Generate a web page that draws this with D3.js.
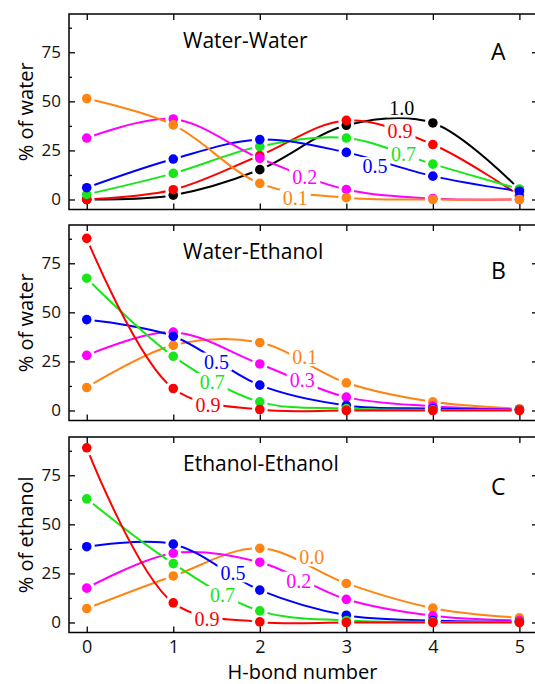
<!DOCTYPE html>
<html>
<head>
<meta charset="utf-8">
<script src="https://cdn.jsdelivr.net/npm/d3@7"></script>
<style>
  body { margin: 0; background: #fff; }
  text { font-family: "Open Sans", sans-serif; }
  text.frac { font-family: "Liberation Serif", "Times New Roman", serif; }
</style>
</head>
<body>
<svg id="fig" width="535" height="684"></svg>
<script>
// H-bond number axis
const hbondNumber = [0, 1, 2, 3, 4, 5];
const yTicks = [0, 25, 50, 75];
const yMinor = [12.5, 37.5, 62.5, 87.5];

// Water-Water distribution (% of water), one series per ethanol fraction label
const wwNames = ["1.0", "0.9", "0.7", "0.5", "0.2", "0.1"];
const ww_10 = [0, 2.2, 15.2, 37.8, 39, 5];
const ww_09 = [0, 5, 22.4, 40.3, 28, 2];
const ww_07 = [2.6, 13.3, 27, 31.3, 18, 5.3];
const ww_05 = [6, 20.6, 30.5, 24, 11.9, 4.2];
const ww_02 = [31.3, 41, 21, 5.1, 0.5, 0];
const ww_01 = [51.4, 38, 8.2, 0.9, 0, 0];
const wwLabelAt = [[3.64, 46.4], [3.62, 35], [3.66, 23.3], [3.33, 17], [2.52, 11.7], [2.41, 0.9]];

// Water-Ethanol distribution (% of water)
const weNames = ["0.1", "0.3", "0.5", "0.7", "0.9"];
const we_01 = [11.7, 33.2, 34.6, 14.1, 4.4, 0.9];
const we_03 = [28.1, 39.9, 23.7, 6.8, 2.2, 0.5];
const we_05 = [46.3, 37.8, 12.9, 2.6, 1, 0.3];
const we_07 = [67.4, 27.6, 4.4, 1, 0.3, 0.2];
const we_09 = [87.7, 11.2, 0.5, 0, 0, 0];
const weLabelAt = [[2.52, 27.2], [2.49, 15.5], [1.5, 24.9], [1.45, 14.5], [1.4, 2.6]];

// Ethanol-Ethanol distribution (% of ethanol)
const eeNames = ["0.0", "0.2", "0.5", "0.7", "0.9"];
const ee_00 = [7.1, 23.7, 37.8, 19.9, 7.3, 2.4];
const ee_02 = [17.5, 35.3, 30.7, 11.8, 3.4, 1];
const ee_05 = [38.6, 39.9, 16.5, 3.7, 1, 0.3];
const ee_07 = [63, 30, 5.9, 1, 0.3, 0.2];
const ee_09 = [89, 10, 0.3, 0, 0, 0];
const eeLabelAt = [[2.6, 33.2], [2.45, 21.3], [1.69, 25], [1.57, 14], [1.39, 1.7]];

const BLACK = "#000000", RED = "#ff0000", GREEN = "#19e619", BLUE = "#0000ff",
      MAGENTA = "#ff00ff", ORANGE = "#ff8412";

const panels = [
  { top: 14, title: "Water-Water", letter: "A", letterY: 60, ylab: "% of water",
    names: wwNames, series: [ww_10, ww_09, ww_07, ww_05, ww_02, ww_01], labelAt: wwLabelAt,
    colors: [BLACK, RED, GREEN, BLUE, MAGENTA, ORANGE] },
  { top: 225, title: "Water-Ethanol", letter: "B", letterY: 279, ylab: "% of water",
    names: weNames, series: [we_01, we_03, we_05, we_07, we_09], labelAt: weLabelAt,
    colors: [ORANGE, MAGENTA, BLUE, GREEN, RED] },
  { top: 437, title: "Ethanol-Ethanol", letter: "C", letterY: 495, ylab: "% of ethanol",
    names: eeNames, series: [ee_00, ee_02, ee_05, ee_07, ee_09], labelAt: eeLabelAt,
    colors: [ORANGE, MAGENTA, BLUE, GREEN, RED] }
];

const svg = d3.select("#fig");
const defs = svg.append("defs");
const left = 69, right = 538, panelH = 195.5;
const x = d3.scaleLinear().domain([-0.205, 5.215]).range([left, right]);

panels.forEach((p, pi) => {
  const top = p.top, bottom = top + panelH;
  const y = d3.scaleLinear().domain([-5.1, 94.5]).range([bottom, top]);
  const g = svg.append("g");

  defs.append("clipPath").attr("id", "clip" + pi)
    .append("rect").attr("x", left).attr("y", top).attr("width", right - left).attr("height", panelH);

  // axes, ticks pointing inward
  const styleAxis = sel => {
    sel.select(".domain").remove();
    sel.selectAll(".tick line").attr("stroke-width", 1.3);
    sel.selectAll(".tick text").style("font-size", "17px").style("font-family", "Open Sans").attr("fill", "#111");
  };
  g.append("g").attr("transform", `translate(${left},0)`)
    .call(d3.axisLeft(y).tickValues(yTicks).tickSize(-6).tickPadding(8))
    .call(styleAxis);
  g.append("g").attr("transform", `translate(${left},0)`)
    .call(d3.axisLeft(y).tickValues(yMinor).tickSize(-3).tickFormat(""))
    .call(styleAxis);
  g.append("g").attr("transform", `translate(${right},0)`)
    .call(d3.axisRight(y).tickValues(yTicks).tickSize(-6).tickFormat(""))
    .call(styleAxis);
  g.append("g").attr("transform", `translate(${right},0)`)
    .call(d3.axisRight(y).tickValues(yMinor).tickSize(-3).tickFormat(""))
    .call(styleAxis);
  g.append("g").attr("transform", `translate(0,${top})`)
    .call(d3.axisTop(x).tickValues(hbondNumber).tickSize(-6).tickFormat(""))
    .call(styleAxis);
  const xb = g.append("g").attr("transform", `translate(0,${bottom})`)
    .call(d3.axisBottom(x).tickValues(hbondNumber).tickSize(-6).tickPadding(8)
      .tickFormat(pi === 2 ? d3.format("d") : ""))
    .call(styleAxis);
  xb.selectAll(".tick text").style("font-size", "18px");

  g.append("rect").attr("x", left).attr("y", top).attr("width", right - left).attr("height", panelH)
    .attr("fill", "none").attr("stroke", "#000").attr("stroke-width", 1.5);

  // titles
  g.append("text").attr("x", 183).attr("y", top + 34).style("font-size", "21px").text(p.title);
  g.append("text").attr("x", 491).attr("y", p.letterY).style("font-size", "23px").text(p.letter);
  g.append("text")
    .attr("transform", `translate(33,${top + panelH / 2}) rotate(-90)`)
    .attr("text-anchor", "middle").style("font-size", "20px").text(p.ylab);

  const line = d3.line()
    .x((d, i) => x(hbondNumber[i]))
    .y(d => y(d))
    .curve(d3.curveCatmullRom.alpha(0.5));

  const plot = g.append("g").attr("clip-path", `url(#clip${pi})`);
  const labelLayer = g.append("g");

  p.series.forEach((vals, si) => {
    const col = p.colors[si];
    const [lx, ly] = p.labelAt[si];
    const lab = labelLayer.append("text").attr("class", "frac")
      .attr("x", x(lx)).attr("y", y(ly)).attr("dy", "0.35em")
      .attr("text-anchor", "middle").style("font-size", "20px")
      .attr("fill", col).text(p.names[si]);
    const bb = lab.node().getBBox();

    // the line breaks around its own markers and label
    const mid = `gap${pi}_${si}`;
    const mask = defs.append("mask").attr("id", mid).attr("maskUnits", "userSpaceOnUse")
      .attr("x", 0).attr("y", 0).attr("width", 535).attr("height", 684);
    mask.append("rect").attr("width", 535).attr("height", 684).attr("fill", "#fff");
    mask.selectAll("circle").data(vals).join("circle")
      .attr("cx", (d, i) => x(hbondNumber[i])).attr("cy", d => y(d)).attr("r", 8).attr("fill", "#000");
    mask.append("rect").attr("x", bb.x - 3).attr("y", bb.y + 2)
      .attr("width", bb.width + 6).attr("height", bb.height - 4).attr("fill", "#000");

    plot.append("path").datum(vals)
      .attr("d", line).attr("fill", "none").attr("stroke", col).attr("stroke-width", 2)
      .attr("mask", `url(#${mid})`);
    plot.append("g").selectAll("circle").data(vals).join("circle")
      .attr("cx", (d, i) => x(hbondNumber[i])).attr("cy", d => y(d)).attr("r", 4.8).attr("fill", col);
  });
});

svg.append("text").attr("x", (left + right) / 2 - 1).attr("y", 678.5)
  .attr("text-anchor", "middle").style("font-size", "20px").text("H-bond number");
</script>
</body>
</html>
